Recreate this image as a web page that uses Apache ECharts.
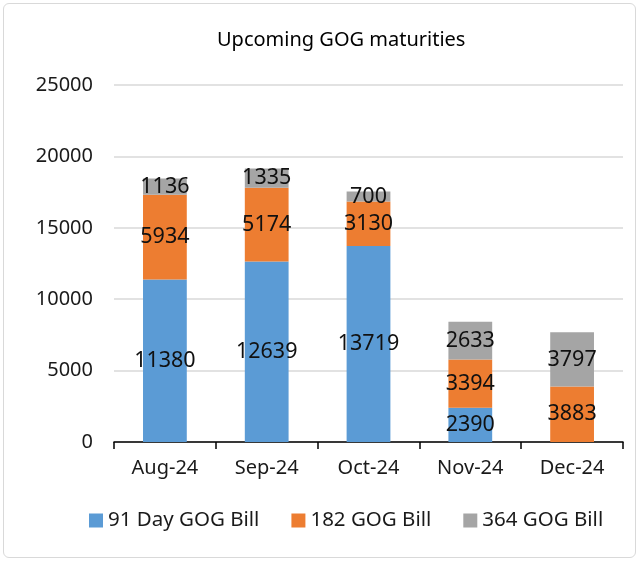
<!DOCTYPE html>
<html>
<head>
<meta charset="utf-8">
<script src="https://cdn.jsdelivr.net/npm/echarts@6/dist/echarts.min.js"></script>
<style>
    html, body { margin: 0; padding: 0; background: #fff; }
    #chart {
        position: absolute;
        left: 3px; top: 3px;
        width: 633px; height: 555px;
        border: 1.5px solid #d9d9d9;
        border-radius: 6px;
        box-sizing: border-box;
    }
</style>
</head>
<body>
<div id="chart"></div>
<script>
const months = ["Aug-24", "Sep-24", "Oct-24", "Nov-24", "Dec-24"];
const bill91 = [11380, 12639, 13719, 2390, 0];
const bill182 = [5934, 5174, 3130, 3394, 3883];
const bill364 = [1136, 1335, 700, 2633, 3797];
const yTicks = [0, 5000, 10000, 15000, 20000, 25000];

const font = "'Noto Sans', 'Open Sans', sans-serif";
const textColor = "#1a1a1a";

const chart = echarts.init(document.getElementById("chart"), null, { renderer: "canvas" });

function barSeries(name, values, color) {
    return {
        name: name,
        type: "bar",
        stack: "total",
        barWidth: "43%",
        data: values,
        itemStyle: { color: color },
        label: {
            show: true,
            position: "inside",
            color: "#111",
            fontFamily: font,
            fontSize: 21.5,
            formatter: (p) => (p.value ? String(p.value) : ""),
        },
    };
}

chart.setOption({
    animation: false,
    textStyle: { fontFamily: font },
    title: {
        text: "Upcoming GOG maturities",
        left: 208,
        top: 21,
        textStyle: { fontFamily: font, fontSize: 20, fontWeight: "normal", color: "#000" },
    },
    grid: { left: 110, right: 12, top: 81, bottom: 115 },
    legend: {
        bottom: 21,
        left: 80,
        itemWidth: 14,
        itemHeight: 14,
        itemGap: 32,
        icon: "rect",
        textStyle: { fontFamily: font, fontSize: 20.5, color: textColor },
        data: ["91 Day GOG Bill", "182 GOG Bill", "364 GOG Bill"],
    },
    xAxis: {
        type: "category",
        data: months,
        axisLine: { lineStyle: { color: "#000", width: 1.5 } },
        axisTick: { show: true, length: 7, lineStyle: { color: "#000", width: 1.5 } },
        axisLabel: { fontFamily: font, fontSize: 20, color: textColor, margin: 16 },
    },
    yAxis: {
        type: "value",
        min: yTicks[0],
        max: yTicks[yTicks.length - 1],
        interval: 5000,
        axisLine: { show: false },
        axisTick: { show: false },
        splitLine: { lineStyle: { color: "#d9d9d9", width: 1.5 } },
        axisLabel: {
            fontFamily: font,
            fontSize: 20,
            color: textColor,
            margin: 21,
            formatter: (v) => String(v),
        },
    },
    series: [
        barSeries("91 Day GOG Bill", bill91, "#5b9bd5"),
        barSeries("182 GOG Bill", bill182, "#ed7d31"),
        barSeries("364 GOG Bill", bill364, "#a5a5a5"),
    ],
});

window.onresize = () => {
    chart.resize();
};
</script>
</body>
</html>
